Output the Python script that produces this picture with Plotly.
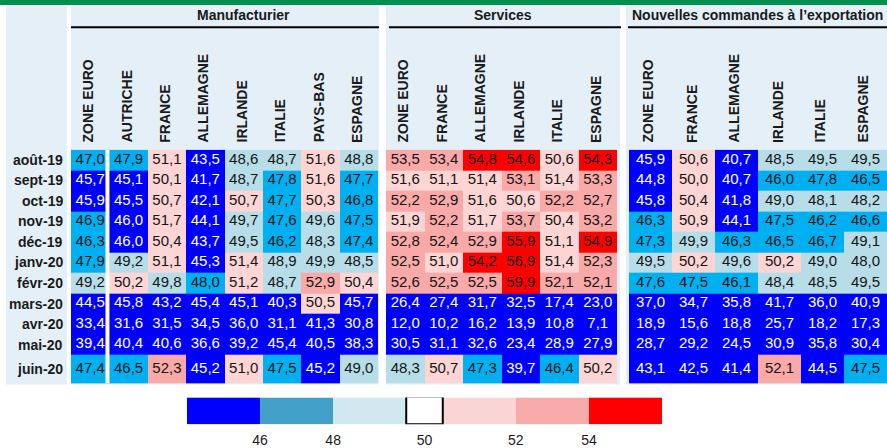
import numpy as np
import plotly.graph_objects as go

W, H = 887, 448
FONT = "Liberation Sans, Arial, sans-serif"

# ---------------- data ----------------
months = ["août-19", "sept-19", "oct-19", "nov-19", "déc-19", "janv-20",
          "févr-20", "mars-20", "avr-20", "mai-20", "juin-20"]

groups = ["Manufacturier", "Services", "Nouvelles commandes à l’exportation"]

manuf_cols = ["ZONE EURO", "AUTRICHE", "FRANCE", "ALLEMAGNE", "IRLANDE",
              "ITALIE", "PAYS-BAS", "ESPAGNE"]
manuf_zone_euro = [47.0, 45.7, 45.9, 46.9, 46.3, 47.9, 49.2, 44.5, 33.4, 39.4, 47.4]
manuf_autriche = [47.9, 45.1, 45.5, 45.96, 45.96, 49.2, 50.2, 45.8, 31.6, 40.4, 46.5]
manuf_france = [51.1, 50.1, 50.7, 51.7, 50.4, 51.1, 49.8, 43.2, 31.5, 40.6, 52.3]
manuf_allemagne = [43.5, 41.7, 42.1, 44.1, 43.7, 45.3, 47.96, 45.4, 34.5, 36.6, 45.2]
manuf_irlande = [48.6, 48.7, 50.7, 49.7, 49.5, 51.4, 51.2, 45.1, 36.0, 39.2, 51.0]
manuf_italie = [48.7, 47.8, 47.7, 47.6, 46.2, 48.9, 48.7, 40.3, 31.1, 45.4, 47.5]
manuf_pays_bas = [51.6, 51.6, 50.3, 49.6, 48.3, 49.9, 52.9, 50.5, 41.3, 40.5, 45.2]
manuf_espagne = [48.8, 47.7, 46.8, 47.5, 47.4, 48.5, 50.4, 45.7, 30.8, 38.3, 49.0]

serv_cols = ["ZONE EURO", "FRANCE", "ALLEMAGNE", "IRLANDE", "ITALIE", "ESPAGNE"]
serv_zone_euro = [53.5, 51.6, 52.2, 51.9, 52.8, 52.5, 52.6, 26.4, 12.0, 30.5, 48.3]
serv_france = [53.4, 51.1, 52.9, 52.2, 52.4, 51.0, 52.5, 27.4, 10.2, 31.1, 50.7]
serv_allemagne = [54.8, 51.4, 51.6, 51.7, 52.9, 54.2, 52.5, 31.7, 16.2, 32.6, 47.3]
serv_irlande = [54.6, 53.1, 50.6, 53.7, 55.9, 56.9, 59.9, 32.5, 13.9, 23.4, 39.7]
serv_italie = [50.6, 51.4, 52.2, 50.4, 51.1, 51.4, 52.1, 17.4, 10.8, 28.9, 46.4]
serv_espagne = [54.3, 53.3, 52.7, 53.2, 54.9, 52.3, 52.1, 23.0, 7.1, 27.9, 50.2]

export_cols = ["ZONE EURO", "FRANCE", "ALLEMAGNE", "IRLANDE", "ITALIE", "ESPAGNE"]
export_zone_euro = [45.9, 44.8, 45.8, 46.3, 47.3, 49.5, 47.6, 37.0, 18.9, 28.7, 43.1]
export_france = [50.6, 50.0, 50.4, 50.9, 49.9, 50.2, 47.5, 34.7, 15.6, 29.2, 42.5]
export_allemagne = [40.7, 40.7, 41.8, 44.1, 46.3, 49.6, 46.1, 35.8, 18.8, 24.5, 41.4]
export_irlande = [48.5, 46.0, 49.0, 47.5, 46.5, 50.2, 48.4, 41.7, 25.7, 30.9, 52.1]
export_italie = [49.5, 47.8, 48.1, 46.2, 46.7, 49.0, 48.5, 36.0, 18.2, 35.8, 44.5]
export_espagne = [49.5, 46.5, 48.2, 46.6, 49.1, 48.0, 49.5, 40.9, 17.3, 30.4, 47.5]

manuf_values = [manuf_zone_euro, manuf_autriche, manuf_france, manuf_allemagne,
                manuf_irlande, manuf_italie, manuf_pays_bas, manuf_espagne]
serv_values = [serv_zone_euro, serv_france, serv_allemagne, serv_irlande,
               serv_italie, serv_espagne]
export_values = [export_zone_euro, export_france, export_allemagne,
                 export_irlande, export_italie, export_espagne]

thresholds = [46, 48, 50, 52, 54]
legend_ticks = ["46", "48", "50", "52", "54"]

# ---------------- styles ----------------
cell_colors = ["#0000FF", "#00B0F0", "#B7DDE8", "#FCD5D4", "#F8A9A8", "#FF0000"]
legend_colors = ["#0000FF", "#43A1C9", "#D1E8F0", "#FFFFFF", "#FBD5D5", "#F9AAAA", "#FF0000"]
legend_edges = [0, 2, 4, 6, 7, 9, 11, 13]
legend_tick_pos = [2, 4, 6.5, 9, 11]
panel_color = "#E4EFF7"


def discrete_scale(colors):
    n = len(colors)
    sc = []
    for i, c in enumerate(colors):
        sc.append([i / n, c])
        sc.append([(i + 1) / n, c])
    return sc


def px_x(p):
    return p / W


def px_y(p):
    return 1 - p / H


row_heights = [1] * 10 + [1.4]
row_edges = [0] + list(np.cumsum(row_heights))
row_centers = [(row_edges[i] + row_edges[i + 1]) / 2 for i in range(len(months))]

fig = go.Figure()

axes = [("x", "y"), ("x2", "y"), ("x3", "y")]
col_sets = [manuf_cols, serv_cols, export_cols]
val_sets = [manuf_values, serv_values, export_values]

for cols, vals, (xa, ya) in zip(col_sets, val_sets, axes):
    Z = np.array(vals).T  # rows x cols
    bins = np.digitize(Z, thresholds)
    fig.add_trace(go.Heatmap(
        z=bins, x=list(range(len(cols))), y=row_edges,
        xaxis=xa, yaxis=ya, colorscale=discrete_scale(cell_colors),
        zmin=0, zmax=len(cell_colors) - 1, showscale=False, hoverinfo="skip"))
    xs, ys, ts, tc = [], [], [], []
    for r in range(len(months)):
        for c in range(len(cols)):
            xs.append(c)
            ys.append(row_centers[r])
            ts.append(f"{Z[r, c]:.1f}".replace(".", ","))
            tc.append("#FFFFFF" if bins[r, c] == 0 else "#151515")
    fig.add_trace(go.Scatter(
        x=xs, y=ys, text=ts, mode="text", xaxis=xa, yaxis=ya,
        textfont=dict(family=FONT, size=15, color=tc),
        textposition="middle center", hoverinfo="skip", showlegend=False))

# legend strip
fig.add_trace(go.Heatmap(
    z=[list(range(len(legend_colors)))], x=legend_edges, y=[0, 1],
    xaxis="x4", yaxis="y4", colorscale=discrete_scale(legend_colors),
    zmin=0, zmax=len(legend_colors) - 1, showscale=False, hoverinfo="skip"))

shapes = []
# top green bar
shapes.append(dict(type="rect", xref="paper", yref="paper", x0=0, x1=1,
                   y0=px_y(5), y1=1, fillcolor="#00904F", line_width=0, layer="below"))
# light blue panels
for (a, b) in [(6, 67), (71, 379), (386, 620), (626, 887)]:
    shapes.append(dict(type="rect", xref="paper", yref="paper",
                       x0=px_x(a), x1=px_x(b), y0=px_y(388), y1=px_y(6),
                       fillcolor=panel_color, line_width=0, layer="below"))
# lines under group titles
for (a, b) in [(71, 379), (389, 621), (628, 887)]:
    shapes.append(dict(type="line", xref="paper", yref="paper",
                       x0=px_x(a), x1=px_x(b), y0=px_y(27.5), y1=px_y(27.5),
                       line=dict(color="#000000", width=2)))
# white separator after euro-area column (manufacturing)
shapes.append(dict(type="line", xref="x", yref="y", x0=0.45, x1=0.45,
                   y0=row_edges[0], y1=row_edges[-1],
                   line=dict(color="#FFFFFF", width=4)))
# white legend cell border
shapes.append(dict(type="rect", xref="x4", yref="y4",
                   x0=legend_edges[3], x1=legend_edges[4], y0=0, y1=1.03,
                   line=dict(color="#000000", width=2), fillcolor="rgba(0,0,0,0)"))

annotations = []
# group titles
for title, cx in zip(groups, [243, 503, 757]):
    annotations.append(dict(text=f"<b>{title}</b>", xref="paper", yref="paper",
                            x=px_x(cx), y=px_y(15.5), showarrow=False,
                            xanchor="center", yanchor="middle",
                            font=dict(family=FONT, size=14, color="#1a1a1a")))
# column headers (rotated)
for cols, (xa, _) in zip(col_sets, axes):
    for i, name in enumerate(cols):
        annotations.append(dict(text=f"<b>{name}</b>", xref=xa, yref="paper",
                                x=i - 0.05, y=px_y(146), showarrow=False,
                                textangle=-90, xanchor="center", yanchor="bottom",
                                font=dict(family=FONT, size=14, color="#1a1a1a")))
# row labels
for m, yc in zip(months, row_centers):
    annotations.append(dict(text=f"<b>{m}</b>", xref="paper", yref="y",
                            x=px_x(65), y=yc, showarrow=False,
                            xanchor="right", yanchor="middle",
                            font=dict(family=FONT, size=14, color="#1a1a1a")))

hidden = dict(visible=False, showgrid=False, zeroline=False, fixedrange=True)

fig.update_layout(
    width=W, height=H, margin=dict(l=0, r=0, t=0, b=0),
    paper_bgcolor="white", plot_bgcolor="rgba(0,0,0,0)",
    showlegend=False,
    xaxis=dict(hidden, domain=[px_x(71), px_x(378)], range=[-0.5, len(manuf_cols) - 0.5], anchor="y"),
    xaxis2=dict(hidden, domain=[px_x(386), px_x(617)], range=[-0.5, len(serv_cols) - 0.5], anchor="y"),
    xaxis3=dict(hidden, domain=[px_x(629), px_x(887)], range=[-0.5, len(export_cols) - 0.5], anchor="y"),
    yaxis=dict(hidden, domain=[px_y(387), px_y(151)], range=[row_edges[-1], 0], anchor="x"),
    xaxis4=dict(domain=[px_x(187), px_x(662)], range=[legend_edges[0], legend_edges[-1]],
                anchor="y4", showgrid=False, zeroline=False, showline=False,
                tickvals=legend_tick_pos, ticktext=legend_ticks, ticks="outside",
                ticklen=3, tickcolor="rgba(0,0,0,0)",
                tickfont=dict(family=FONT, size=14, color="#1a1a1a"), fixedrange=True),
    yaxis4=dict(hidden, domain=[px_y(428), px_y(401)], range=[0, 1], anchor="x4"),
    shapes=shapes,
    annotations=annotations,
)

fig.write_html("out.html", config={"displayModeBar": False},
               post_script="document.body.style.margin='0';")
